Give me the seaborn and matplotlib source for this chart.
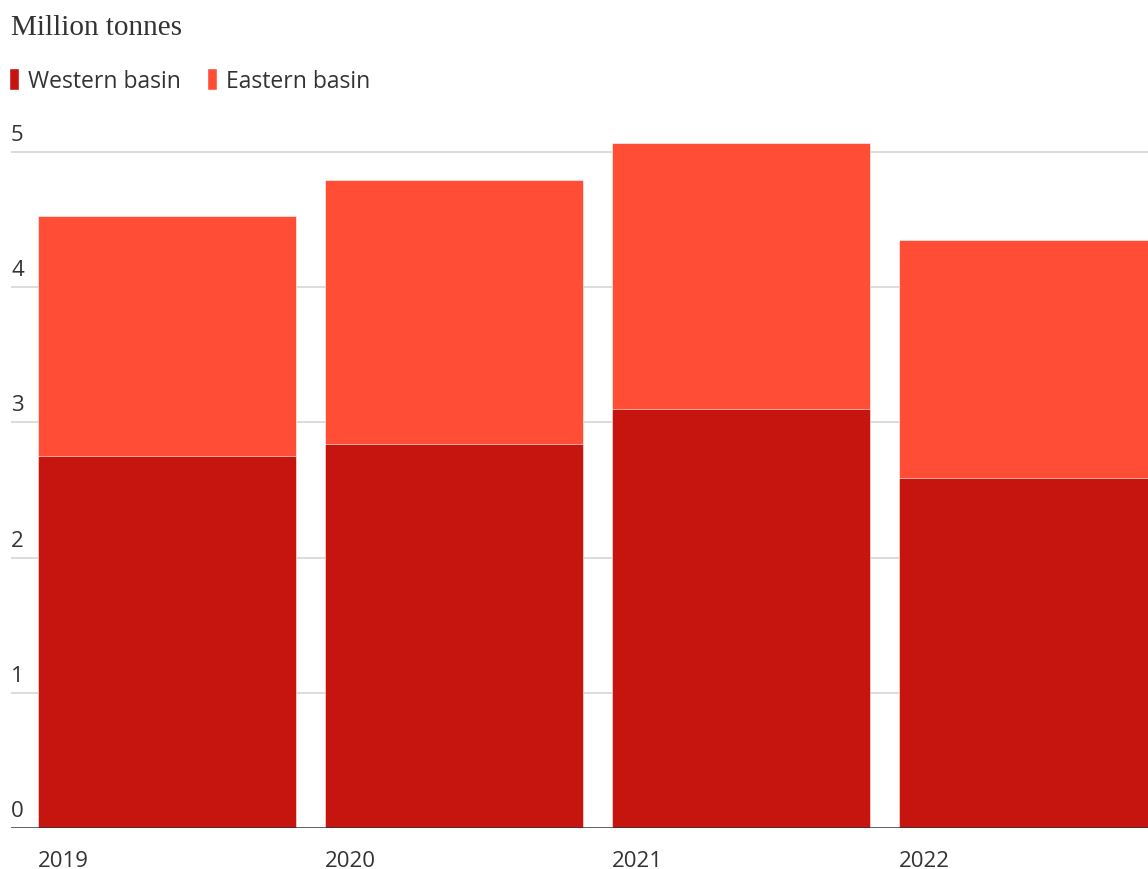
import matplotlib
matplotlib.use("Agg")
import matplotlib.pyplot as plt
import seaborn as sns
import pandas as pd
from matplotlib.patches import Patch

# Values (million tonnes)
years = ["2019", "2020", "2021", "2022"]
western = [2.75, 2.84, 3.10, 2.59]
eastern = [1.78, 1.95, 1.97, 1.76]
yticks = [0, 1, 2, 3, 4, 5]

western_color = "#c6150f"
eastern_color = "#ff4d36"
text_color = "#333333"

df = pd.DataFrame({"year": years, "western": western, "eastern": eastern})
df["total"] = df["western"] + df["eastern"]

sns.set_theme(style="white")
plt.rcParams["font.family"] = ["Open Sans", "DejaVu Sans"]

fig = plt.figure(figsize=(11.48, 8.7), dpi=100)
ax = fig.add_axes([11 / 1148, 41 / 870, 1 - 11 / 1148, 703 / 870])

bar_w = 0.9
sns.barplot(data=df, x="year", y="total", color=eastern_color, width=bar_w,
            saturation=1, ax=ax, zorder=3, edgecolor="white", linewidth=0.4)
sns.barplot(data=df, x="year", y="western", color=western_color, width=bar_w,
            saturation=1, ax=ax, zorder=4, edgecolor="white", linewidth=0.4)

ax.set_ylim(0, 5.2)
ax.set_xlim(-0.5436, 3.418)
ax.set_xlabel("")
ax.set_ylabel("")

# gridlines and baseline
for v in yticks[1:]:
    ax.axhline(v, color="#dcdcdc", lw=1.4, zorder=1)
ax.axhline(0, color=text_color, lw=1.8, zorder=5)

# y labels sit above their gridlines at the left edge
ax.set_yticks([])
for v in yticks:
    ax.annotate(str(v), xy=(0, v), xycoords=ax.get_yaxis_transform(),
                xytext=(0, 5), textcoords="offset points",
                ha="left", va="bottom", fontsize=16, color=text_color)

# x labels left-aligned under each bar's left edge
ax.set_xticks([i - bar_w / 2 for i in range(len(years))])
ax.set_xticklabels(years, ha="left", fontsize=16, color=text_color)
ax.tick_params(axis="x", length=0, pad=16)

sns.despine(ax=ax, left=True, bottom=True, right=True, top=True)

fig.text(11 / 1148, 1 - 15 / 870, "Million tonnes", ha="left", va="top",
         fontsize=21, color=text_color, family=["Liberation Serif", "DejaVu Serif"])

handles = [Patch(facecolor=western_color, label="Western basin"),
           Patch(facecolor=eastern_color, label="Eastern basin")]
fig.legend(handles=handles, loc="upper left", bbox_to_anchor=(9 / 1148, 1 - 69 / 870),
           ncol=2, frameon=False, fontsize=16.5, handlelength=0.45, handleheight=1.1,
           handletextpad=0.4, columnspacing=1.1, borderpad=0, borderaxespad=0,
           labelcolor=text_color)

fig.savefig("out.png", dpi=100)
